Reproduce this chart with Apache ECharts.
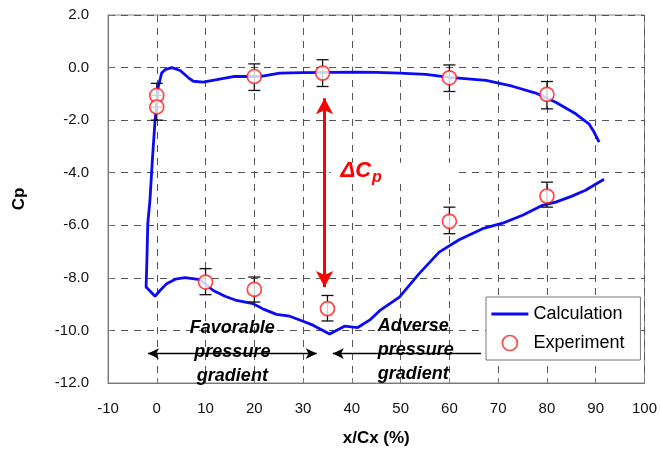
<!DOCTYPE html>
<html>
<head>
<meta charset="utf-8">
<script src="https://cdn.jsdelivr.net/npm/echarts@6/dist/echarts.min.js"></script>
<style>html,body{margin:0;padding:0;background:#fff;}#c{width:660px;height:459px;}</style>
</head>
<body>
<div id="c"></div>
<script>
// ---- data ----
const xTicks = [-10, 0, 10, 20, 30, 40, 50, 60, 70, 80, 90, 100];
const yTicks = [2, 0, -2, -4, -6, -8, -10, -12];

// Calculation curve (ordered path around the blade: suction side from TE to LE, then pressure side to TE)
const calcX = [90.7, 89.5, 88.6, 85.9, 81.8, 77.7, 72.9, 67.5, 60, 55.2, 49.8, 45, 40.9, 35, 30, 25.2, 21.1, 18, 15.7, 12.3, 9.5, 7.5, 6.5, 4.8, 3.1, 1.7, 1.0, 0.3, -0.35, -0.9, -1.4, -1.84, -2.05, -2.19, -0.35, 0.67, 2.04, 3.8, 5.79, 8.85, 11.57, 14, 16.36, 19.75, 22, 24.54, 27.26, 30, 32.02, 35.44, 38.5, 41.2, 43.7, 45.7, 49.75, 53.8, 57.9, 62, 66.8, 70.9, 75, 79.1, 81.8, 85, 87.9, 91.7];
const calcY = [-2.84, -2.4, -2.14, -1.76, -1.32, -0.97, -0.71, -0.49, -0.37, -0.26, -0.21, -0.18, -0.17, -0.18, -0.19, -0.21, -0.34, -0.34, -0.34, -0.46, -0.55, -0.52, -0.39, -0.11, 0.0, -0.08, -0.21, -0.74, -2.0, -3.5, -5.05, -5.93, -7.5, -8.35, -8.70, -8.48, -8.22, -8.05, -7.99, -8.07, -8.48, -8.7, -8.86, -8.98, -9.2, -9.39, -9.46, -9.65, -9.80, -10.14, -9.84, -9.89, -9.6, -9.25, -8.73, -7.84, -7.02, -6.55, -6.13, -5.92, -5.62, -5.24, -5.12, -4.9, -4.67, -4.25];

// Experiment points with error bars
const expX  = [0, 0, 20, 34, 60, 80, 10, 20, 35, 60, 80];
const expY  = [-1.06, -1.5, -0.34, -0.21, -0.39, -1.02, -8.16, -8.44, -9.17, -5.85, -4.89];
const errHi = [-0.6, -1.06, 0.14, 0.3, 0.1, -0.53, -7.65, -7.97, -8.67, -5.31, -4.36];
const errLo = [-1.5, -2.0, -0.87, -0.72, -0.91, -1.57, -8.64, -8.92, -9.64, -6.32, -5.31];

// Annotations (data coordinates)
const deltaArrow = [[34.4, -1.17], [34.4, -8.35]];
const favArrow = [[-1.8, -10.88], [32.8, -10.88]];
const advArrow = [[36.1, -10.88], [66.5, -10.88]];
const favText = [15.5, -10.82];
const advText = [45.3, -10.76];
const deltaText = [41.9, -3.95];
const labelPatch = [[35.6, -3.62], [61.5, -4.38]];

const FONT = "Arial, 'Liberation Sans', sans-serif";
const BLUE = '#0a0af5';

const chart = echarts.init(document.getElementById('c'), null, {renderer: 'canvas'});

const calcData = calcX.map((x, i) => [x, calcY[i]]);
const expData = expX.map((x, i) => [x, expY[i]]);
const errData = expX.map((x, i) => [x, errLo[i], errHi[i]]);

const option = {
  animation: false,
  backgroundColor: '#fff',
  grid: {left: 108, right: 15, top: 15, bottom: 76, show: true, borderColor: '#888', borderWidth: 1, backgroundColor: 'transparent'},
  legend: {
    orient: 'vertical', left: 486, top: 297,
    padding: [8, 16, 8, 4], itemGap: 11, itemWidth: 37, itemHeight: 15,
    borderColor: '#777', borderWidth: 1, backgroundColor: '#fff',
    textStyle: {fontSize: 18, color: '#000', fontFamily: FONT},
    data: [
      {name: 'Calculation', itemStyle: {color: 'transparent', borderColor: 'transparent', borderWidth: 0, opacity: 0}, lineStyle: {color: BLUE, width: 2.8}},
      {name: 'Experiment', icon: 'circle', itemStyle: {color: '#fff', borderColor: '#ff1a1a', borderWidth: 1.7}}
    ]
  },
  xAxis: {
    type: 'value', min: xTicks[0], max: xTicks[xTicks.length - 1], interval: 10,
    name: 'x/Cx (%)', nameLocation: 'middle', nameGap: 47,
    nameTextStyle: {fontSize: 17, fontWeight: 'bold', color: '#000', fontFamily: FONT},
    axisLine: {onZero: false, lineStyle: {color: '#777', width: 1}},
    axisTick: {show: true, inside: true, length: 5, lineStyle: {color: '#777'}},
    axisLabel: {fontSize: 15, color: '#111', margin: 18, fontFamily: FONT},
    splitLine: {show: true, lineStyle: {color: '#555', width: 1, type: [7, 6]}}
  },
  yAxis: {
    type: 'value', min: yTicks[yTicks.length - 1], max: yTicks[0], interval: 2,
    name: 'Cp', nameLocation: 'middle', nameGap: 80, nameRotate: 90,
    nameTextStyle: {fontSize: 17, fontWeight: 'bold', color: '#000', fontFamily: FONT},
    axisLine: {onZero: false, lineStyle: {color: '#777', width: 1}},
    axisTick: {show: true, inside: true, length: 5, lineStyle: {color: '#777'}},
    axisLabel: {fontSize: 15, color: '#111', margin: 19, fontFamily: FONT, formatter: v => v.toFixed(1)},
    splitLine: {show: true, lineStyle: {color: '#555', width: 1, type: [7, 6]}}
  },
  series: [
    {
      type: 'line', name: 'patch', data: [], silent: true, z: 1,
      markArea: {silent: true, itemStyle: {color: '#fff'}, data: [[{coord: labelPatch[0]}, {coord: labelPatch[1]}]]}
    },
    {
      type: 'line', name: 'Calculation', data: calcData, symbol: 'none', smooth: false,
      lineStyle: {color: BLUE, width: 2.8}, itemStyle: {color: BLUE}, z: 3
    },
    {
      type: 'custom', name: 'err', data: errData, z: 4,
      renderItem: function (params, api) {
        const x = api.value(0), lo = api.value(1), hi = api.value(2);
        const p1 = api.coord([x, hi]), p2 = api.coord([x, lo]);
        const w = 6;
        const st = {stroke: '#111', lineWidth: 1.3};
        return {type: 'group', children: [
          {type: 'line', shape: {x1: p1[0], y1: p1[1], x2: p2[0], y2: p2[1]}, style: st},
          {type: 'line', shape: {x1: p1[0] - w, y1: p1[1], x2: p1[0] + w, y2: p1[1]}, style: st},
          {type: 'line', shape: {x1: p2[0] - w, y1: p2[1], x2: p2[0] + w, y2: p2[1]}, style: st}
        ]};
      }
    },
    {
      type: 'scatter', name: 'Experiment', data: expData, symbol: 'circle', symbolSize: 14, z: 5,
      itemStyle: {color: '#fff', borderColor: '#ff1a1a', borderWidth: 1.7}
    },
    {
      type: 'line', name: 'deltaArrow', data: [], silent: true, z: 6,
      markLine: {silent: true, symbol: ['arrow', 'arrow'], symbolSize: [13, 16],
        label: {show: false}, lineStyle: {color: '#ff0000', width: 3, type: 'solid'},
        data: [[{coord: deltaArrow[0]}, {coord: deltaArrow[1]}]]}
    },
    {
      type: 'line', name: 'favArrow', data: [], silent: true, z: 6,
      markLine: {silent: true, symbol: ['arrow', 'arrow'], symbolSize: [8, 11],
        label: {show: false}, lineStyle: {color: '#000', width: 1.3, type: 'solid'},
        data: [[{coord: favArrow[0]}, {coord: favArrow[1]}]]}
    },
    {
      type: 'line', name: 'advArrow', data: [], silent: true, z: 6,
      markLine: {silent: true, symbol: ['arrow', 'none'], symbolSize: [8, 11],
        label: {show: false}, lineStyle: {color: '#000', width: 1.3, type: 'solid'},
        data: [[{coord: advArrow[0]}, {coord: advArrow[1]}]]}
    },
    {
      type: 'line', name: 'texts', data: [], silent: true, z: 7,
      markPoint: {silent: true, symbol: 'circle', symbolSize: 0,
        data: [
          {coord: favText, label: {show: true, position: 'inside', formatter: 'Favorable\npressure\ngradient',
            fontSize: 18, fontWeight: 'bold', fontStyle: 'italic', color: '#000', lineHeight: 24, align: 'center', fontFamily: FONT}},
          {coord: advText, label: {show: true, position: 'right', distance: 0, formatter: 'Adverse\npressure\ngradient',
            fontSize: 18, fontWeight: 'bold', fontStyle: 'italic', color: '#000', lineHeight: 24, align: 'left', fontFamily: FONT}},
          {coord: deltaText, label: {show: true, position: 'inside', formatter: '{a|ΔC}{b|p}',
            rich: {
              a: {fontSize: 22, fontWeight: 'bold', fontStyle: 'italic', color: '#ff0000', fontFamily: FONT},
              b: {fontSize: 16, fontWeight: 'bold', fontStyle: 'italic', color: '#ff0000', fontFamily: FONT, padding: [12, 0, 0, 1]}
            }}}
        ]}
    }
  ]
};
chart.setOption(option);
</script>
</body>
</html>
